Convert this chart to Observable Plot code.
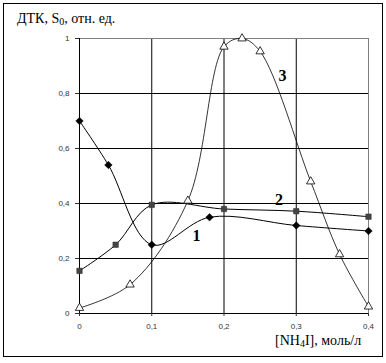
<!DOCTYPE html>
<html><head><meta charset="utf-8">
<script src="https://cdn.jsdelivr.net/npm/d3@7"></script>
<script src="https://cdn.jsdelivr.net/npm/@observablehq/plot@0.6"></script>
<style>
body{margin:0;background:#fff;}
#wrap{position:relative;width:386px;height:363px;overflow:hidden;}
#wrap svg{position:absolute;left:0;top:0;}
.frame{position:absolute;left:3px;top:3px;width:378px;height:352px;border:1.5px solid #000;pointer-events:none;}
.ttl{position:absolute;font-family:"Liberation Serif","Times New Roman",serif;font-size:14px;color:#000;white-space:nowrap;}
.ttl sub{font-size:10px;vertical-align:-2px;line-height:0;}
</style></head>
<body><div id="wrap"></div>
<script>
const x1 = [0, 0.04, 0.1, 0.18, 0.3, 0.4];
const y1 = [0.70, 0.54, 0.25, 0.35, 0.32, 0.30];
const x2 = [0, 0.05, 0.1, 0.2, 0.3, 0.4];
const y2 = [0.155, 0.25, 0.395, 0.38, 0.372, 0.352];
const x3 = [0, 0.07, 0.15, 0.2, 0.225, 0.25, 0.32, 0.36, 0.4];
const y3 = [0.02, 0.105, 0.41, 0.97, 1.0, 0.953, 0.48, 0.215, 0.025];
const xTicks = [0, 0.1, 0.2, 0.3, 0.4];
const yTicks = [0, 0.2, 0.4, 0.6, 0.8, 1];
const curveLabels = ["1", "2", "3"];
const labelX = [0.162, 0.276, 0.281];
const labelY = [0.284, 0.415, 0.865];

const s1 = x1.map((x, i) => ({x, y: y1[i]}));
const s2 = x2.map((x, i) => ({x, y: y2[i]}));
const s3 = x3.map((x, i) => ({x, y: y3[i]}));
const labs = curveLabels.map((t, i) => ({t, x: labelX[i], y: labelY[i]}));
const fmt = d => String(+d.toFixed(1)).replace(".", ",");

const chart = Plot.plot({
  width: 386, height: 363,
  marginLeft: 79, marginRight: 18, marginTop: 38, marginBottom: 50,
  style: {fontFamily: "'Liberation Sans', Arial, sans-serif", fontSize: "8px", background: "transparent"},
  x: {domain: [0, 0.4]},
  y: {domain: [0, 1]},
  marks: [
    Plot.ruleX([0.1, 0.2, 0.3], {stroke: "#000", strokeWidth: 1}),
    Plot.ruleY([0.2, 0.4, 0.6, 0.8], {stroke: "#000", strokeWidth: 1}),
    Plot.ruleY([1], {stroke: "#808080", strokeWidth: 1}),
    Plot.ruleX([0.4], {stroke: "#808080", strokeWidth: 1}),
    Plot.ruleX([0], {stroke: "#000", strokeWidth: 1}),
    Plot.ruleY([0], {stroke: "#000", strokeWidth: 1}),
    Plot.axisY({ticks: yTicks, tickFormat: fmt, tickSize: 4, tickPadding: 6, label: null, color: "#333"}),
    Plot.axisX({ticks: xTicks, tickFormat: fmt, tickSize: 3, tickPadding: 7, label: null, color: "#333"}),
    Plot.line(s3, {x: "x", y: "y", curve: "catmull-rom", stroke: "#000", strokeWidth: 0.8}),
    Plot.line(s2, {x: "x", y: "y", curve: "catmull-rom", stroke: "#000", strokeWidth: 1}),
    Plot.line(s1, {x: "x", y: "y", curve: "catmull-rom", stroke: "#000", strokeWidth: 1}),
    Plot.dot(s3, {x: "x", y: "y", symbol: "triangle", r: 3.1, fill: "#fff", stroke: "#000", strokeWidth: 0.8}),
    Plot.dot(s2, {x: "x", y: "y", symbol: "square", r: 3.1, fill: "#444", stroke: "#333", strokeWidth: 0.5}),
    Plot.dot(s1, {x: "x", y: "y", symbol: "diamond2", r: 3.4, fill: "#000", stroke: "#000", strokeWidth: 0.5}),
    Plot.text(labs, {x: "x", y: "y", text: "t", fontFamily: "'Liberation Serif','Times New Roman',serif", fontSize: 16, fontWeight: "bold", fill: "#000"})
  ]
});
const wrap = document.getElementById("wrap");
wrap.appendChild(chart);
const t = document.createElement("div");
t.className = "ttl"; t.style.left = "17px"; t.style.top = "11px";
t.innerHTML = "ДТК, S<sub>0</sub>, отн. ед.";
wrap.appendChild(t);
const xl = document.createElement("div");
xl.className = "ttl"; xl.style.left = "275px"; xl.style.top = "333px";
xl.innerHTML = "[NH<sub>4</sub>I], моль/л";
wrap.appendChild(xl);
const fr = document.createElement("div");
fr.className = "frame";
wrap.appendChild(fr);
</script>
</body></html>
